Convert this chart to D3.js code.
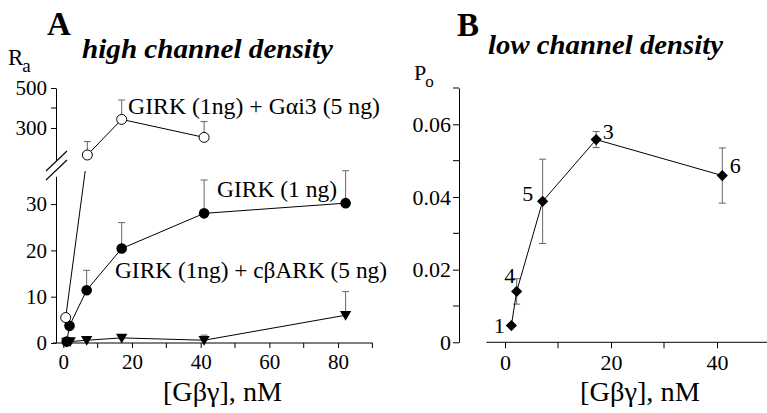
<!DOCTYPE html>
<html>
<head>
<meta charset="utf-8">
<title>Gbg dose response</title>
<script src="https://d3js.org/d3.v7.min.js"></script>
<style>
  body { margin: 0; background: #fff; }
</style>
</head>
<body>
<script>
// ---- panel A data: [Gbg] nM vs Ra
const concGai = [0.7, 7, 17, 41];
const raGai = [5.5, 165, 343, 253];
const errGai = [0, 67, 97, 79];

const concGirk = [1, 1.8, 6.8, 17, 41, 82.2];
const raGirk = [0.3, 3.7, 11.4, 20.4, 28, 30.2];
const errGirk = [0, 0, 4.3, 5.6, 7.2, 7];

const concArk = [1, 2, 6.8, 17, 41, 82.2];
const raArk = [0.2, 0.3, 0.6, 1.1, 0.6, 6.0];
const errArk = [0, 0, 0, 0, 1.1, 5.1];

const xTicksA = [0, 20, 40, 60, 80];
const yTicksLow = [0, 10, 20, 30];
const yTicksHigh = [300, 500];

// ---- panel B data: [Gbg] nM vs Po
const concB = [1.2, 2.2, 7.1, 17.2, 41];
const poB = [0.0046, 0.014, 0.0388, 0.0558, 0.0459];
const errB = [0, 0.0035, 0.0116, 0.0022, 0.0076];
const nB = ["1", "4", "5", "3", "6"];
const xTicksB = [0, 20, 40];
const yTicksB = [0, 0.02, 0.04, 0.06];

const W = 767, H = 413;
const FONT = "'Liberation Serif', 'Times New Roman', serif";
const svg = d3.select("body").append("svg").attr("width", W).attr("height", H)
  .attr("font-family", FONT);

const gray = "#666";

// ================= Panel A =================
const xA = d3.scaleLinear().domain([0, 90]).range([63.3, 372.4]);
const yLow = d3.scaleLinear().domain([0, 36]).range([343, 176.3]);
const yHigh = d3.scaleLinear().domain([140, 500]).range([160, 88]);
const yA = v => v >= 100 ? yHigh(v) : yLow(v);
const axAx = 56;

const gA = svg.append("g");

// x axis
const xAxisA = d3.axisBottom(xA).tickValues(xTicksA).tickSize(5).tickSizeOuter(0).tickPadding(6);
const gxA = gA.append("g").attr("transform", `translate(0,${yLow(0)})`).call(xAxisA);
gxA.select(".domain").remove();
gxA.append("line").attr("x1", axAx - 3).attr("x2", xA(90)).attr("stroke", "#000");
gxA.selectAll(".minor").data(d3.range(10, 91, 20)).join("line")
  .attr("x1", d => xA(d)).attr("x2", d => xA(d)).attr("y1", 0).attr("y2", 5).attr("stroke", "#000");

// lower y axis
const gyL = gA.append("g").attr("transform", `translate(${axAx},0)`)
  .call(d3.axisLeft(yLow).tickValues(yTicksLow).tickSize(5).tickSizeOuter(0).tickPadding(4));

// upper y axis
const gyH = gA.append("g").attr("transform", `translate(${axAx},0)`)
  .call(d3.axisLeft(yHigh).tickValues(yTicksHigh).tickSize(5).tickSizeOuter(0).tickPadding(4));
gyH.append("line").attr("x1", -5).attr("x2", 0).attr("y1", yHigh(400)).attr("y2", yHigh(400)).attr("stroke", "#000");

// axis break
[0, 9].forEach(o => {
  gA.append("line").attr("x1", 46).attr("y1", 171 + o).attr("x2", 67).attr("y2", 151 + o)
    .attr("stroke", "#000").attr("stroke-width", 1.1);
});

// clip the break gap
const defs = svg.append("defs");
const cp = defs.append("clipPath").attr("id", "gap");
cp.append("rect").attr("x", 0).attr("y", 0).attr("width", 400).attr("height", 160);
cp.append("rect").attr("x", 0).attr("y", 171).attr("width", 400).attr("height", 200);

function errUp(g, xs, ys, es, xs_, ys_) {
  xs.forEach((c, i) => {
    if (!es[i]) return;
    const x = xs_(c), y0 = ys_(ys[i]), y1 = ys_(ys[i] + es[i]);
    g.append("line").attr("x1", x).attr("x2", x).attr("y1", y0).attr("y2", y1).attr("stroke", gray);
    g.append("line").attr("x1", x - 3.5).attr("x2", x + 3.5).attr("y1", y1).attr("y2", y1).attr("stroke", gray);
  });
}

errUp(gA, concGai, raGai, errGai, xA, yA);
errUp(gA, concGirk, raGirk, errGirk, xA, yLow);
errUp(gA, concArk, raArk, errArk, xA, yLow);

const lineA = d3.line().x(d => xA(d[0])).y(d => yA(d[1]));
gA.append("path").datum(d3.zip(concGai, raGai)).attr("d", lineA)
  .attr("fill", "none").attr("stroke", "#000").attr("clip-path", "url(#gap)");
gA.append("path").datum(d3.zip(concGirk, raGirk)).attr("d", lineA)
  .attr("fill", "none").attr("stroke", "#000");
gA.append("path").datum(d3.zip(concArk, raArk)).attr("d", lineA)
  .attr("fill", "none").attr("stroke", "#000");

const tri = d3.symbol().type(d3.symbolTriangle).size(55);
gA.selectAll(".ark").data(d3.zip(concArk, raArk)).join("path")
  .attr("d", tri).attr("transform", d => `translate(${xA(d[0])},${yLow(d[1]) - 1}) rotate(180)`)
  .attr("fill", "#000");
gA.selectAll(".girk").data(d3.zip(concGirk, raGirk)).join("circle")
  .attr("cx", d => xA(d[0])).attr("cy", d => yLow(d[1])).attr("r", 5.3).attr("fill", "#000");
gA.selectAll(".gai").data(d3.zip(concGai, raGai)).join("circle")
  .attr("cx", d => xA(d[0])).attr("cy", d => yA(d[1])).attr("r", 5)
  .attr("fill", "#fff").attr("stroke", "#000");

gA.append("text").attr("x", 128).attr("y", 114).style("font-size", "22.5px")
  .attr("textLength", 252).attr("lengthAdjust", "spacingAndGlyphs").text("GIRK (1ng) + G\u03b1i3 (5 ng)");
gA.append("text").attr("x", 217).attr("y", 197).style("font-size", "22.5px")
  .attr("textLength", 120).attr("lengthAdjust", "spacingAndGlyphs").text("GIRK (1 ng)");
gA.append("text").attr("x", 115).attr("y", 278).style("font-size", "22.5px")
  .attr("textLength", 272).attr("lengthAdjust", "spacingAndGlyphs").text("GIRK (1ng) + c\u03b2ARK (5 ng)");

gA.append("text").attr("x", 47).attr("y", 35).style("font-size", "33px").style("font-weight", "bold").text("A");
gA.append("text").attr("x", 82).attr("y", 58).style("font-size", "27px").style("font-weight", "bold")
  .style("font-style", "italic").attr("textLength", 251).attr("lengthAdjust", "spacingAndGlyphs")
  .text("high channel density");
const ra = gA.append("text").attr("x", 8).attr("y", 65).style("font-size", "23px");
ra.append("tspan").text("R");
ra.append("tspan").attr("dy", 7).attr("dx", -1).style("font-size", "19px").text("a");
gA.append("text").attr("x", 163).attr("y", 401).style("font-size", "27px")
  .attr("textLength", 119).attr("lengthAdjust", "spacingAndGlyphs").text("[G\u03b2\u03b3], nM");

// ================= Panel B =================
const xB = d3.scaleLinear().domain([0, 40]).range([505, 717]);
const yB = d3.scaleLinear().domain([0, 0.07]).range([342.3, 88]);
const axBx = 459;
const gB = svg.append("g");

const gyB = gB.append("g").attr("transform", `translate(${axBx},0)`)
  .call(d3.axisLeft(yB).tickValues(yTicksB).tickFormat(d => d === 0 ? "0" : d3.format(".2f")(d))
    .tickSize(6).tickSizeOuter(0).tickPadding(2));
gyB.selectAll(".minor").data([0.01, 0.03, 0.05, 0.07]).join("line")
  .attr("x1", -6).attr("x2", 0).attr("y1", d => yB(d)).attr("y2", d => yB(d)).attr("stroke", "#000");

const gxB = gB.append("g").attr("transform", `translate(0,${yB(0)})`)
  .call(d3.axisBottom(xB).tickValues(xTicksB).tickSize(6).tickSizeOuter(0).tickPadding(6));
gxB.select(".domain").remove();
gxB.append("line").attr("x1", xB(-3.5)).attr("x2", W).attr("stroke", "#000");
gxB.selectAll(".minor").data([10, 30]).join("line")
  .attr("x1", d => xB(d)).attr("x2", d => xB(d)).attr("y1", 0).attr("y2", 6).attr("stroke", "#000");

concB.forEach((c, i) => {
  if (!errB[i]) return;
  const x = xB(c), y0 = yB(poB[i] - errB[i]), y1 = yB(poB[i] + errB[i]);
  gB.append("line").attr("x1", x).attr("x2", x).attr("y1", y0).attr("y2", y1).attr("stroke", gray);
  [y0, y1].forEach(y => gB.append("line").attr("x1", x - 3.5).attr("x2", x + 3.5)
    .attr("y1", y).attr("y2", y).attr("stroke", gray));
});

gB.append("path").datum(d3.zip(concB, poB))
  .attr("d", d3.line().x(d => xB(d[0])).y(d => yB(d[1])))
  .attr("fill", "none").attr("stroke", "#000");
gB.selectAll(".dia").data(d3.zip(concB, poB)).join("path")
  .attr("d", d3.symbol().type(d3.symbolDiamond2).size(80))
  .attr("transform", d => `translate(${xB(d[0])},${yB(d[1])})`).attr("fill", "#000");

const nOff = [[-12, 7], [-7, -8], [-15, 0], [12, -1], [13, -3]];
gB.selectAll(".n").data(nB).join("text")
  .attr("x", (d, i) => xB(concB[i]) + nOff[i][0])
  .attr("y", (d, i) => yB(poB[i]) + nOff[i][1])
  .attr("text-anchor", "middle").style("font-size", "22px").text(d => d);

gB.append("text").attr("x", 457).attr("y", 36).style("font-size", "33px").style("font-weight", "bold").text("B");
gB.append("text").attr("x", 488).attr("y", 54).style("font-size", "27px").style("font-weight", "bold")
  .style("font-style", "italic").attr("textLength", 235).attr("lengthAdjust", "spacingAndGlyphs")
  .text("low channel density");
const po = gB.append("text").attr("x", 414).attr("y", 80).style("font-size", "22px");
po.append("tspan").text("P");
po.append("tspan").attr("dy", 7).attr("dx", -1).style("font-size", "17px").text("o");
gB.append("text").attr("x", 580).attr("y", 401).style("font-size", "27px")
  .attr("textLength", 120).attr("lengthAdjust", "spacingAndGlyphs").text("[G\u03b2\u03b3], nM");

// uniform serif text everywhere (axis groups set their own font attrs)
svg.selectAll("g").attr("font-family", null).attr("font-size", null);
svg.selectAll("text").style("font-family", FONT).style("fill", "#000");
gA.selectAll(".tick text").style("font-size", "21px");
gB.selectAll(".tick text").style("font-size", "22px");
</script>
</body>
</html>
